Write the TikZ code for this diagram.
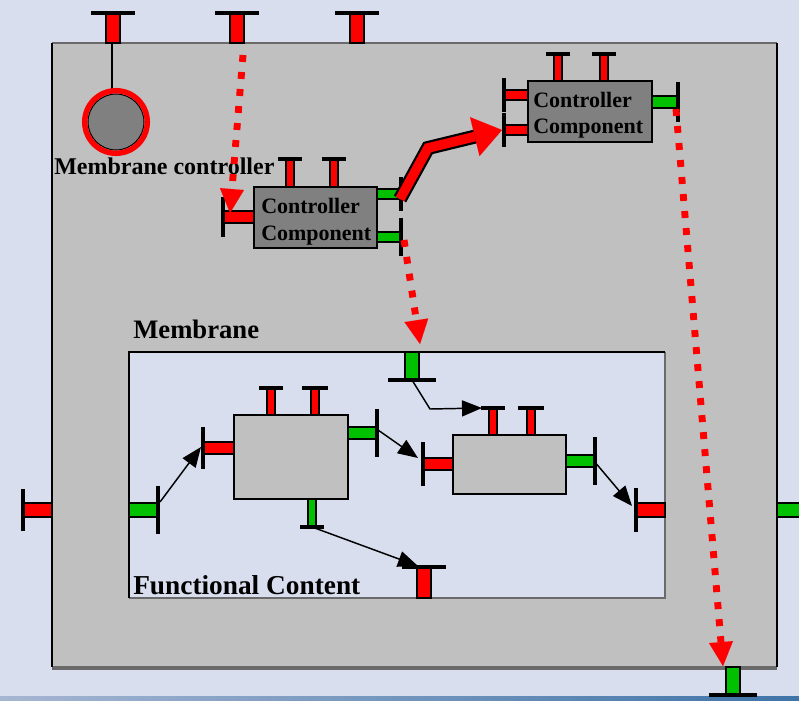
\documentclass[tikz,border=0pt]{standalone}
\usepackage{fontspec}
\setmainfont{Liberation Serif}
\usetikzlibrary{arrows.meta,calc}
\definecolor{bgc}{HTML}{D8DEEE}
\definecolor{boxg}{HTML}{C0C0C0}
\definecolor{darkg}{HTML}{808080}
\definecolor{edgeg}{HTML}{6A6A6A}
\definecolor{portg}{HTML}{00C000}
\definecolor{portr}{HTML}{FF0000}
\definecolor{stripl}{HTML}{A6B6D2}
\definecolor{stripr}{HTML}{3F74A8}
% name, cx, ybar, yedge, half stem, half bar, colour
\newcommand{\mkvport}[7]{%
  \filldraw[fill=#7, draw=black, line width=0.9pt] (#2-#5,#3) rectangle (#2+#5,#4);
  \draw[line width=3.6pt] (#2-#6,#3) -- (#2+#6,#3);
  \coordinate (#1) at (#2,#3);}
% name, cy, xbar, xedge, half stem, half bar, colour
\newcommand{\mkhport}[7]{%
  \filldraw[fill=#7, draw=black, line width=0.9pt] (#3,#2-#5) rectangle (#4,#2+#5);
  \draw[line width=3.6pt] (#3,#2-#6) -- (#3,#2+#6);
  \coordinate (#1) at (#3,#2);}
\begin{document}
\begin{tikzpicture}[x=0.75pt,y=-0.75pt,
  lbl/.style={anchor=base west, inner sep=0pt},
  ctlfont/.style={font=\bfseries\fontsize{16.5}{18}\selectfont},
  bigfont/.style={font=\bfseries\fontsize{20}{22}\selectfont},
  ctrlbox/.style={fill=darkg, draw=black, line width=1.3pt},
  funcbox/.style={fill=boxg, draw=black, line width=1.3pt},
  flow/.style={draw=black, line width=1.1pt, -{Triangle[length=15pt,width=12pt]}},
  reddot/.style={draw=portr, line width=5.2pt, dash pattern=on 5.2pt off 7.6pt,
     -{Triangle[length=18pt,width=18pt,line width=0.01pt]}}]
\useasboundingbox (0,0) rectangle (799,700);
\clip (0,0) rectangle (799,700);
\fill[bgc] (0,0) rectangle (799,700);
\shade[left color=stripl,right color=stripr] (0,696) rectangle (799,700);
% outer box
\fill[boxg] (52,43) rectangle (777,667);
\draw[edgeg, line width=1.5pt] (52,43) -- (777,43);
\draw[edgeg, line width=3pt] (52,668) -- (777,668);
\draw[black, line width=1.2pt] (52,43) -- (52,667);
\draw[black, line width=1.2pt] (777,43) -- (777,667);
% inner membrane area
\fill[bgc] (129,352) rectangle (665,598);
\draw[edgeg, line width=2pt] (665,352) -- (665,598) -- (129,598);
\draw[black, line width=1.5pt] (129,598) -- (129,352) -- (665,352);
% outer ports
\mkvport{t1}{113}{13}{43}{7}{22}{portr}
\mkvport{t2}{237}{13}{43}{7}{22}{portr}
\mkvport{t3}{357}{13}{43}{7}{22}{portr}
\mkhport{ol}{510}{23}{52}{7}{21}{portr}
\mkhport{orr}{510}{806}{777}{7}{21}{portg}
\mkvport{ob}{733}{695}{667}{7}{24}{portg}
% membrane controller
\draw[line width=1.1pt] ($(t1)+(-1,30)$) -- ($(t1)+(-1,78)$);
\node[circle, fill=darkg, draw=black, line width=0.8pt, minimum size=42pt, inner sep=0pt] (mc) at (116,122) {};
\draw[portr, line width=4.1pt] (mc.center) circle[radius=31.3];
\node[lbl, font=\bfseries\fontsize{18}{20}\selectfont] (mctext) at (54,174) {Membrane controller};
% controller component 1
\draw[ctrlbox] (254,187) rectangle (377,248);
\mkvport{c1t1}{290}{159}{187}{4}{12}{portr}
\mkvport{c1t2}{334}{159}{187}{4}{12}{portr}
\mkhport{c1l}{217}{223}{254}{6}{20}{portr}
\mkhport{c1r1}{194}{401}{377}{5}{17}{portg}
\mkhport{c1r2}{237}{401}{377}{5}{19}{portg}
\node[lbl, ctlfont] (c1a) at (261,213) {Controller};
\node[lbl, ctlfont] (c1b) at (261,240) {Component};
% controller component 2
\draw[ctrlbox] (528,81) rectangle (652,142);
\mkvport{c2t1}{558}{54}{81}{4}{12}{portr}
\mkvport{c2t2}{604}{54}{81}{4}{12}{portr}
\mkhport{c2l1}{95}{504}{528}{5}{17}{portr}
\mkhport{c2l2}{130}{504}{528}{5}{17}{portr}
\mkhport{c2r}{102}{678}{652}{6}{20}{portg}
\node[lbl, ctlfont] (c2a) at (533,107) {Controller};
\node[lbl, ctlfont] (c2b) at (533,133) {Component};
% functional component A
\draw[funcbox] (234,415) rectangle (348,499);
\mkvport{at1}{271}{388}{415}{4}{12}{portr}
\mkvport{at2}{315}{388}{415}{4}{13}{portr}
\mkhport{al}{448}{203}{234}{6}{21}{portr}
\mkhport{ar}{433}{377}{348}{6}{24}{portg}
\mkvport{ab}{312}{527}{499}{4}{12}{portg}
% functional component B
\draw[funcbox] (453,435) rectangle (566,494);
\mkvport{bt1}{493}{408}{435}{4}{12}{portr}
\mkvport{bt2}{531}{408}{435}{4}{13}{portr}
\mkhport{bl}{464}{423}{453}{6}{22}{portr}
\mkhport{br}{461}{595}{566}{6}{24}{portg}
% membrane inner ports
\mkhport{il}{510}{158}{129}{7}{24}{portg}
\mkvport{it}{412}{380}{352}{7}{24}{portg}
\mkhport{ir}{510}{636}{665}{7}{22}{portr}
\mkvport{ib}{424}{567}{598}{7}{22}{portr}
% labels
\node[lbl, bigfont] (memlbl) at (133,338) {Membrane};
\node[lbl, font=\bfseries\fontsize{20.5}{22}\selectfont] (fclbl) at (133,594) {Functional Content};
% black flow arrows
\draw[flow] ($(il)+(2,-8)$) -- ($(al)+(-2,-1)$);
\draw[flow] ($(ar)+(1,-3)$) -- ($(bl)+(-5,-6)$);
\coordinate (ak) at (430,409);
\draw[flow] (it) -- (ak) -- ($(bt1)+(-11,0)$);
\draw[flow] ($(br)+(-1,0)$) -- ($(ir)+(-4,-4)$);
\draw[flow] (ab) -- ($(ib)+(-6,-1)$);
% red dotted arrows
\draw[reddot] ($(t2)+(6,42)$) -- ($(c1l)+(7,-4)$);
\draw[reddot] ($(c1r2)+(3,3)$) -- ($(it)+(8,-36)$);
\draw[reddot] ($(c2r)+(-2,7)$) -- ($(ob)+(-10,-29)$);
% fat red arrow
\coordinate (fk) at (428,148);
\draw[black, line width=10.5pt, line join=miter, shorten >=20pt] ($(c1r1)+(-1,5)$) -- (fk) -- ($(c2l2)+(-2,0)$);
\draw[portr, line width=7.2pt, line join=miter, -{Triangle[length=21pt,width=30pt,line width=0.01pt]}] ($(c1r1)+(-1,5)$) -- (fk) -- ($(c2l2)+(-2,0)$);
\end{tikzpicture}
\end{document}
